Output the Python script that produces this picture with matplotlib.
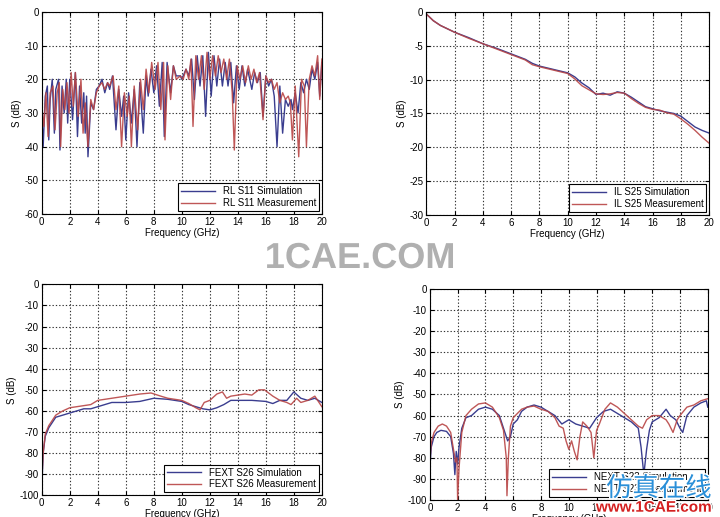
import numpy as np
import matplotlib.pyplot as plt
import matplotlib.patheffects as pe

plt.rcParams['font.family'] = ['Liberation Sans', 'DejaVu Sans']
plt.rcParams['font.size'] = 6.5
plt.rcParams['axes.unicode_minus'] = False

BLUE = '#3a3d8f'
RED = '#b84545'

# ---- RL S11 (top left) ----
rl_sim_f = [0, 0.1, 0.25, 0.4, 0.5, 0.6, 0.75, 0.9, 1.0, 1.2, 1.3, 1.45, 1.6, 1.75, 1.85, 2.0, 2.2, 2.4,
            2.55, 2.7, 2.85, 3.0, 3.1, 3.2, 3.3, 3.5, 3.7, 3.9, 4.1, 4.3, 4.5, 4.7, 4.85, 5.05, 5.3, 5.5,
            5.7, 5.85, 6.0, 6.2, 6.4, 6.6, 6.8, 7.0, 7.25, 7.45, 7.6, 7.8, 8.0, 8.2, 8.4, 8.6, 8.75, 8.95,
            9.2, 9.4, 9.6, 9.9, 10.0, 10.3, 10.5, 10.7, 10.9, 11.1, 11.3, 11.5, 11.7, 11.9, 12.1, 12.3,
            12.5, 12.7, 12.9, 13.1, 13.3, 13.5, 13.7, 13.9, 14.1, 14.3, 14.5, 14.7, 15.0, 15.2, 15.4,
            15.6, 15.8, 16.0, 16.2, 16.4, 16.6, 16.8, 17.0, 17.2, 17.4, 17.6, 17.8, 17.9, 18.1, 18.3,
            18.5, 18.7, 18.9, 19.1, 19.3, 19.5, 19.7, 19.85, 20.0]
rl_sim = [-30, -40, -25, -22, -38, -26, -20, -36, -23, -20, -41, -22, -30, -20, -33, -20, -32, -18,
          -37, -22, -33, -24, -36, -25, -43, -27, -29, -23, -22, -20, -24, -21, -23, -19, -35, -23,
          -31, -25, -38, -24, -33, -23, -40, -21, -36, -19, -25, -17, -24, -16, -28, -15, -37, -15,
          -24, -16, -19, -19, -20, -17, -19, -14, -26, -13, -22, -13, -31, -12, -25, -13,
          -22, -14, -22, -15, -22, -15, -27, -16, -23, -16, -22, -17, -23, -18, -21,
          -18, -31, -19, -22, -20, -25, -40, -22, -36, -26, -28, -26, -29, -24, -30,
          -21, -24, -20, -23, -17, -20, -15, -25, -15]

rl_meas_f = [0, 0.15, 0.3, 0.45, 0.6, 0.8, 0.95, 1.1, 1.25, 1.35, 1.5, 1.65, 1.8, 1.95, 2.1, 2.25, 2.4,
             2.6, 2.8, 2.95, 3.1, 3.3, 3.5, 3.7, 3.9, 4.1, 4.3, 4.5, 4.7, 4.85, 5.1, 5.3, 5.5, 5.7, 5.9,
             6.1, 6.25, 6.4, 6.6, 6.85, 7.05, 7.25, 7.45, 7.65, 7.85, 8.1, 8.3, 8.5, 8.7, 8.8, 9.0,
             9.2, 9.4, 9.6, 9.9, 10.1, 10.3, 10.5, 10.65, 10.8, 11.0, 11.2, 11.4, 11.6, 11.8, 12.0,
             12.2, 12.4, 12.6, 12.8, 13.0, 13.2, 13.4, 13.6, 13.75, 13.95, 14.15, 14.35, 14.55, 14.75,
             14.95, 15.15, 15.35, 15.55, 15.8, 16.0, 16.2, 16.4, 16.6, 16.8, 17.0, 17.2, 17.4, 17.6,
             17.75, 17.9, 18.1, 18.35, 18.55, 18.75, 18.9, 19.1, 19.3, 19.5, 19.7, 19.85, 20.0]
rl_meas = [-28, -34, -24, -37, -24, -22, -35, -24, -21, -40, -23, -29, -21, -30, -18, -28, -18,
           -31, -20, -36, -27, -40, -26, -29, -24, -22, -21, -23, -21, -22, -19, -29, -22, -40, -24,
           -31, -25, -40, -22, -35, -20, -29, -17, -24, -15, -23, -15, -29, -15, -38, -16,
           -26, -16, -20, -19, -20, -17, -20, -14, -34, -13, -20, -13, -23, -12, -20,
           -13, -19, -13, -18, -14, -20, -14, -24, -41, -16, -20, -16, -21, -16,
           -20, -17, -21, -18, -32, -19, -21, -20, -23, -21, -27, -24, -26, -25,
           -27, -38, -22, -43, -20, -22, -40, -20, -16, -19, -13, -26, -14]

# ---- IL S25 (top right) ----
il_f = [0, 0.5, 1, 2, 3, 4, 5, 6, 7, 7.5, 8, 9, 10, 10.5, 11, 11.5, 12, 12.5, 13, 13.5, 14, 14.5,
        15, 15.5, 16, 16.5, 17, 17.5, 18, 18.5, 19, 19.5, 20]
il_sim = [-0.3, -1.3, -2.0, -3.0, -3.8, -4.7, -5.4, -6.2, -7.0, -7.6, -8.0, -8.5, -9.0, -9.6, -10.5,
          -11.2, -12.2, -12.0, -12.3, -11.8, -12.0, -12.6, -13.3, -14.0, -14.3, -14.6, -14.8,
          -15.0, -15.4, -16.2, -17.0, -17.5, -17.9]
il_meas = [-0.3, -1.3, -2.0, -3.0, -3.9, -4.7, -5.5, -6.3, -7.1, -7.8, -8.1, -8.6, -9.1, -9.9,
           -10.9, -11.5, -12.1, -12.2, -12.1, -11.9, -12.0, -12.8, -13.5, -14.1, -14.4, -14.5,
           -14.9, -15.1, -15.8, -16.6, -17.5, -18.5, -19.4]

# ---- FEXT S26 (bottom left) ----
fext_sim_f = [0, 0.1, 0.25, 0.5, 1, 1.5, 2, 2.5, 3, 3.5, 4, 5, 6, 7, 8, 9, 10, 10.5, 11, 11.5, 12,
              12.5, 13, 13.5, 14, 15, 16, 16.5, 17, 17.5, 18, 18.5, 19, 19.5, 20]
fext_sim = [-97, -80, -72, -68, -63, -62, -61, -60, -59, -59, -58, -56, -56, -55.5, -54, -54.5,
            -55.5, -57, -58, -59, -59.5, -58.5, -57, -55, -55, -55, -55.5, -56.5, -55, -55, -51,
            -54, -55, -54, -56]
fext_meas_f = [0, 0.1, 0.25, 0.5, 1, 1.5, 2, 3, 3.5, 4, 5, 6, 7, 7.8, 8.5, 9, 10, 10.5, 11, 11.3,
               11.6, 12, 12.5, 12.9, 13.2, 13.5, 14, 14.5, 15, 15.5, 15.9, 16.5, 17, 17.5, 17.8,
               18.2, 18.5, 19, 19.5, 20]
fext_meas = [-93, -80, -71, -67, -62, -60, -58.5, -57.5, -57, -55, -54, -53, -52, -51.5, -53, -54,
             -55, -56.5, -58.5, -59.5, -56, -55, -52, -51, -54, -53, -52.5, -52, -52.5, -50, -50,
             -53, -55, -56, -57, -54, -56, -55, -53, -58]

# ---- NEXT S23 (bottom right) ----
next_sim_f = [0, 0.1, 0.3, 0.5, 0.8, 1.2, 1.5, 1.7, 1.8, 1.9, 2.0, 2.1, 2.3, 2.6, 3, 3.5, 4, 4.5, 5,
              5.3, 5.6, 5.8, 6.0, 6.3, 6.6, 7, 7.5, 8, 8.5, 9, 9.5, 10, 10.5, 11, 11.5, 12, 12.5,
              13, 13.5, 14, 14.5, 15, 15.2, 15.4, 15.6, 15.8, 16, 16.5, 17, 17.3, 17.7, 18, 18.2,
              18.5, 19, 19.5, 19.9, 20]
next_sim = [-85, -75, -70, -68, -67, -67.5, -70, -78, -88, -77, -83, -75, -66, -61, -60, -57, -56,
            -57, -60, -66, -72, -70, -64, -62, -58, -56, -55, -56, -58, -60, -64, -62, -64, -65,
            -66, -61, -58, -57, -59, -61, -63, -66, -75, -88, -76, -67, -63, -61, -57, -60, -62,
            -66, -68, -60, -56, -54, -53, -56]
next_meas_f = [0, 0.1, 0.3, 0.6, 0.9, 1.2, 1.5, 1.7, 1.85, 1.95, 2.0, 2.1, 2.3, 2.6, 3, 3.5, 4, 4.5,
               5, 5.3, 5.5, 5.55, 5.65, 5.8, 6.0, 6.3, 6.6, 7, 7.5, 8, 8.5, 9, 9.3, 9.6, 9.8, 10,
               10.2, 10.4, 10.6, 10.8, 11, 11.3, 11.6, 11.8, 12, 12.2, 12.6, 13, 13.5, 14, 14.5,
               15, 15.3, 15.6, 16, 16.5, 17, 17.2, 17.5, 17.8, 18, 18.5, 19, 19.5, 20]
next_meas = [-82, -73, -68, -65, -64, -65, -68, -76, -82, -80, -100, -85, -68, -60, -57, -54.5, -54,
             -56, -61, -67, -80, -98, -80, -65, -61, -59, -57, -56, -55.5, -57, -58, -61, -65, -66,
             -72, -76, -72, -77, -81, -70, -63, -65, -68, -80, -67, -64, -57, -54, -56, -59, -62,
             -65, -66, -62, -60, -60, -62, -64, -68, -62, -60, -56, -55, -53, -52]

fig = plt.figure(figsize=(7.2, 5.17), dpi=100)

panels = [
    ([0.058, 0.586, 0.389, 0.391], rl_sim_f, rl_sim, rl_meas_f, rl_meas, (-60, 0), 10,
     'RL S11 Simulation', 'RL S11 Measurement'),
    ([0.592, 0.584, 0.393, 0.393], il_f, il_sim, il_f, il_meas, (-30, 0), 5,
     'IL S25 Simulation', 'IL S25 Measurement'),
    ([0.058, 0.042, 0.389, 0.408], fext_sim_f, fext_sim, fext_meas_f, fext_meas, (-100, 0), 10,
     'FEXT S26 Simulation', 'FEXT S26 Measurement'),
    ([0.597, 0.033, 0.386, 0.408], next_sim_f, next_sim, next_meas_f, next_meas, (-100, 0), 10,
     'NEXT S23 Simulation', 'NEXT S23 Measurement'),
]

for rect, fs, ys, fm, ym, ylim, ystep, lab_s, lab_m in panels:
    ax = fig.add_axes(rect)
    ax.plot(fs, ys, color=BLUE, linewidth=1.0, label=lab_s)
    ax.plot(fm, ym, color=RED, linewidth=1.0, label=lab_m, alpha=0.9)
    ax.set_xlim(0, 20)
    ax.set_ylim(*ylim)
    ax.set_xticks(np.arange(0, 21, 2))
    ax.set_yticks(np.arange(ylim[0], 1, ystep))
    ax.grid(True, color='#333333', linestyle=(0, (1.2, 1.8)), linewidth=0.8)
    ax.tick_params(direction='in', length=3, pad=2, labelsize=7, top=True, right=True)
    ax.set_xlabel('Frequency (GHz)', fontsize=7, labelpad=1)
    ax.set_ylabel('S (dB)', fontsize=7, labelpad=2)
    leg = ax.legend(loc='lower right', fontsize=7, fancybox=False, framealpha=1,
                    edgecolor='black', borderpad=0.3, handlelength=3.5, labelspacing=0.2,
                    borderaxespad=0.3)
    leg.get_frame().set_linewidth(0.8)

# watermarks
fig.text(0.5, 0.5, '1CAE.COM', fontsize=26, fontweight='bold', color='#b0b0b0',
         ha='center', va='center',
         path_effects=[pe.withStroke(linewidth=3, foreground='white')])
fig.text(0.915, 0.055, '仿真在线', fontsize=19, color='#2a8fd8', ha='center', va='center',
         family=['Noto Sans CJK SC', 'DejaVu Sans'],
         path_effects=[pe.withStroke(linewidth=2, foreground='white')])
fig.text(0.908, 0.018, 'www.1CAE.com', fontsize=11, fontweight='bold', color='#d42020',
         ha='center', va='center',
         path_effects=[pe.withStroke(linewidth=2, foreground='white')])

fig.savefig('out.png', dpi=100, facecolor='white')
